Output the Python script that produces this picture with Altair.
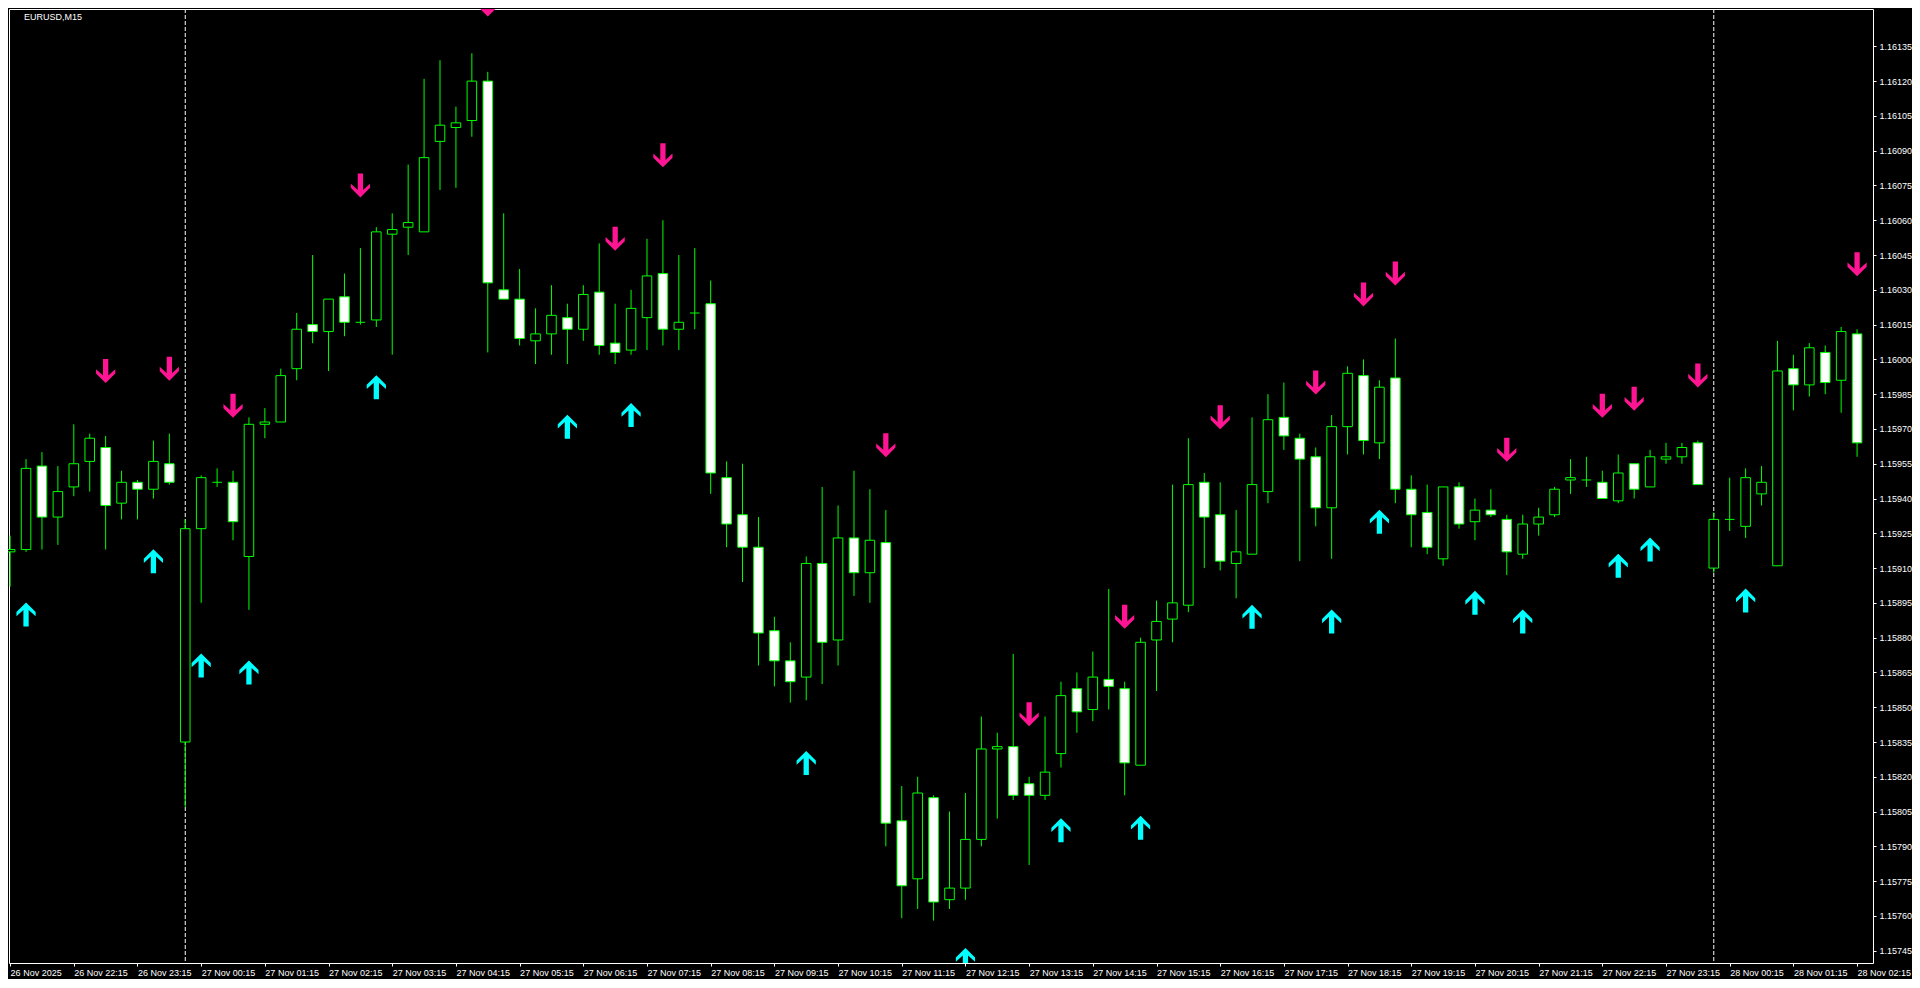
import altair as alt
import pandas as pd

# ---------------- data ----------------
IDX = list(range(117))
OPEN = [1.15917, 1.15918, 1.15954, 1.15932, 1.15945, 1.15956, 1.15962, 1.15938, 1.15947, 1.15944,
        1.15955, 1.15835, 1.15927, 1.15947, 1.15947, 1.15915, 1.15972, 1.15973, 1.15996, 1.16015,
        1.16012, 1.16027, 1.16016, 1.16017, 1.16054, 1.16057, 1.16055, 1.16094, 1.16100, 1.16103,
        1.16120, 1.16030, 1.16026, 1.16008, 1.16011, 1.16018, 1.16013, 1.16029, 1.16007, 1.16004,
        1.16018, 1.16037, 1.16013, 1.16020, 1.16024, 1.15949, 1.15933, 1.15919, 1.15883, 1.15870,
        1.15863, 1.15912, 1.15879, 1.15923, 1.15908, 1.15921, 1.15801, 1.15776, 1.15811, 1.15767,
        1.15772, 1.15793, 1.15832, 1.15833, 1.15817, 1.15812, 1.15830, 1.15858, 1.15849, 1.15862,
        1.15858, 1.15825, 1.15879, 1.15888, 1.15894, 1.15947, 1.15933, 1.15912, 1.15916, 1.15943,
        1.15975, 1.15966, 1.15958, 1.15936, 1.15971, 1.15993, 1.15964, 1.15992, 1.15944, 1.15934,
        1.15914, 1.15945, 1.15930, 1.15935, 1.15931, 1.15916, 1.15929, 1.15933, 1.15948, 1.15948,
        1.15947, 1.15939, 1.15955, 1.15945, 1.15957, 1.15958, 1.15964, 1.15910, 1.15931, 1.15928,
        1.15942, 1.15911, 1.15996, 1.15989, 1.16003, 1.15991, 1.16011]
HIGH = [1.15924, 1.15957, 1.15960, 1.15954, 1.15972, 1.15968, 1.15967, 1.15952, 1.15948, 1.15965,
        1.15968, 1.15931, 1.15950, 1.15953, 1.15952, 1.15975, 1.15979, 1.15996, 1.16020, 1.16045,
        1.16026, 1.16037, 1.16048, 1.16057, 1.16063, 1.16084, 1.16121, 1.16129, 1.16109, 1.16132,
        1.16124, 1.16063, 1.16039, 1.16022, 1.16032, 1.16024, 1.16032, 1.16050, 1.16024, 1.16030,
        1.16052, 1.16060, 1.16045, 1.16048, 1.16034, 1.15956, 1.15955, 1.15932, 1.15889, 1.15878,
        1.15915, 1.15945, 1.15937, 1.15952, 1.15944, 1.15935, 1.15816, 1.15820, 1.15812, 1.15805,
        1.15813, 1.15846, 1.15839, 1.15873, 1.15820, 1.15846, 1.15861, 1.15865, 1.15874, 1.15901,
        1.15861, 1.15880, 1.15896, 1.15946, 1.15966, 1.15951, 1.15947, 1.15935, 1.15975, 1.15985,
        1.15990, 1.15968, 1.15962, 1.15976, 1.15997, 1.16000, 1.15991, 1.16009, 1.15950, 1.15946,
        1.15945, 1.15947, 1.15940, 1.15944, 1.15933, 1.15933, 1.15936, 1.15945, 1.15957, 1.15958,
        1.15952, 1.15959, 1.15955, 1.15961, 1.15964, 1.15964, 1.15965, 1.15934, 1.15949, 1.15953,
        1.15954, 1.16008, 1.16002, 1.16007, 1.16006, 1.16014, 1.16013]
LOW = [1.15902, 1.15917, 1.15918, 1.15920, 1.15941, 1.15943, 1.15918, 1.15931, 1.15931, 1.15940,
       1.15946, 1.15807, 1.15895, 1.15945, 1.15922, 1.15892, 1.15966, 1.15973, 1.15991, 1.16007,
       1.15995, 1.16010, 1.16015, 1.16014, 1.16002, 1.16045, 1.16055, 1.16073, 1.16074, 1.16096,
       1.16003, 1.16026, 1.16006, 1.15998, 1.16002, 1.15998, 1.16008, 1.16002, 1.15998, 1.16002,
       1.16004, 1.16006, 1.16004, 1.16013, 1.15942, 1.15919, 1.15904, 1.15868, 1.15859, 1.15852,
       1.15853, 1.15860, 1.15868, 1.15898, 1.15895, 1.15790, 1.15759, 1.15763, 1.15758, 1.15763,
       1.15767, 1.15790, 1.15802, 1.15810, 1.15782, 1.15810, 1.15824, 1.15839, 1.15844, 1.15849,
       1.15812, 1.15825, 1.15857, 1.15878, 1.15891, 1.15910, 1.15909, 1.15897, 1.15916, 1.15938,
       1.15961, 1.15913, 1.15928, 1.15914, 1.15959, 1.15959, 1.15957, 1.15938, 1.15919, 1.15916,
       1.15911, 1.15927, 1.15922, 1.15932, 1.15907, 1.15914, 1.15924, 1.15932, 1.15942, 1.15945,
       1.15940, 1.15938, 1.15940, 1.15945, 1.15955, 1.15955, 1.15946, 1.15908, 1.15926, 1.15923,
       1.15937, 1.15911, 1.15978, 1.15984, 1.15985, 1.15977, 1.15958]
CLOSE = [1.15918, 1.15953, 1.15932, 1.15943, 1.15955, 1.15966, 1.15937, 1.15947, 1.15944, 1.15956,
         1.15947, 1.15927, 1.15949, 1.15947, 1.15930, 1.15972, 1.15973, 1.15993, 1.16013, 1.16012,
         1.16026, 1.16016, 1.16016, 1.16055, 1.16056, 1.16059, 1.16087, 1.16101, 1.16102, 1.16120,
         1.16033, 1.16026, 1.16009, 1.16011, 1.16019, 1.16013, 1.16028, 1.16006, 1.16003, 1.16022,
         1.16036, 1.16013, 1.16016, 1.16020, 1.15951, 1.15929, 1.15919, 1.15882, 1.15870, 1.15861,
         1.15912, 1.15878, 1.15923, 1.15908, 1.15922, 1.15800, 1.15773, 1.15813, 1.15766, 1.15772,
         1.15793, 1.15832, 1.15833, 1.15812, 1.15812, 1.15822, 1.15855, 1.15848, 1.15863, 1.15859,
         1.15826, 1.15878, 1.15887, 1.15895, 1.15946, 1.15932, 1.15913, 1.15917, 1.15946, 1.15974,
         1.15967, 1.15957, 1.15936, 1.15971, 1.15994, 1.15965, 1.15988, 1.15944, 1.15933, 1.15919,
         1.15945, 1.15929, 1.15935, 1.15933, 1.15917, 1.15929, 1.15932, 1.15944, 1.15949, 1.15948,
         1.15940, 1.15951, 1.15944, 1.15958, 1.15958, 1.15962, 1.15946, 1.15931, 1.15931, 1.15949,
         1.15947, 1.15995, 1.15989, 1.16005, 1.15990, 1.16012, 1.15964]

UP_IDX = [1, 9, 12, 15, 23, 35, 39, 50, 60, 66, 71, 78, 83, 86, 92, 95, 101, 103, 109]
UP_PRICE = [1.15890, 1.15913, 1.15868, 1.15865, 1.15988, 1.15971, 1.15976, 1.15826, 1.15741,
            1.15797, 1.15798, 1.15889, 1.15887, 1.15930, 1.15895, 1.15887, 1.15911, 1.15918, 1.15896]
DN_IDX = [6, 10, 14, 22, 30, 38, 41, 55, 64, 70, 76, 82, 85, 87, 94, 100, 102, 106, 116]
DN_PRICE = [1.15995, 1.15996, 1.15980, 1.16075, 1.16153, 1.16052, 1.16088, 1.15963, 1.15847,
            1.15889, 1.15975, 1.15990, 1.16028, 1.16037, 1.15961, 1.15980, 1.15983, 1.15993, 1.16041]

DAY_SEP_IDX = [11, 107]

X_TICKS = [0, 4, 8, 12, 16, 20, 24, 28, 32, 36, 40, 44, 48, 52, 56, 60, 64, 68, 72, 76,
           80, 84, 88, 92, 96, 100, 104, 108, 112, 116]
X_LABELS = ["26 Nov 2025", "26 Nov 22:15", "26 Nov 23:15", "27 Nov 00:15", "27 Nov 01:15",
            "27 Nov 02:15", "27 Nov 03:15", "27 Nov 04:15", "27 Nov 05:15", "27 Nov 06:15",
            "27 Nov 07:15", "27 Nov 08:15", "27 Nov 09:15", "27 Nov 10:15", "27 Nov 11:15",
            "27 Nov 12:15", "27 Nov 13:15", "27 Nov 14:15", "27 Nov 15:15", "27 Nov 16:15",
            "27 Nov 17:15", "27 Nov 18:15", "27 Nov 19:15", "27 Nov 20:15", "27 Nov 21:15",
            "27 Nov 22:15", "27 Nov 23:15", "28 Nov 00:15", "28 Nov 01:15", "28 Nov 02:15"]
Y_TICKS = [1.15745, 1.15760, 1.15775, 1.15790, 1.15805, 1.15820, 1.15835, 1.15850, 1.15865,
           1.15880, 1.15895, 1.15910, 1.15925, 1.15940, 1.15955, 1.15970, 1.15985, 1.16000,
           1.16015, 1.16030, 1.16045, 1.16060, 1.16075, 1.16090, 1.16105, 1.16120, 1.16135]
SYMBOL = "EURUSD,M15"

# ---------------- styling ----------------
GREEN = "#00FF00"
CYAN = "#00FFFF"
PINK = "#FF1493"
WHITE = "#FFFFFF"
FONT = "Liberation Sans"
FS = 9

UP_PATH = ("M0,-1 L0.8,-0.2 L0.8,0.15 L0.22,-0.38 L0.22,1 L-0.22,1 "
           "L-0.22,-0.38 L-0.8,0.15 L-0.8,-0.2 Z")
DN_PATH = ("M0,1 L0.8,0.2 L0.8,-0.15 L0.22,0.38 L0.22,-1 L-0.22,-1 "
           "L-0.22,0.38 L-0.8,-0.15 L-0.8,0.2 Z")

candles = pd.DataFrame({"i": IDX, "o": OPEN, "h": HIGH, "l": LOW, "c": CLOSE})
ups = pd.DataFrame({"i": UP_IDX, "p": UP_PRICE})
dns = pd.DataFrame({"i": DN_IDX, "p": DN_PRICE})
seps = pd.DataFrame({"i": DAY_SEP_IDX})
title_df = pd.DataFrame({"t": [SYMBOL]})

XS = alt.Scale(domain=[-0.07, 117.0], nice=False, zero=False)
YS = alt.Scale(domain=[1.157397, 1.161511], nice=False, zero=False)

label_expr = "[" + ",".join("'%s'" % s for s in X_LABELS) + "][round(datum.value / 4)]"

XAXIS = alt.Axis(orient="bottom", values=X_TICKS, labelExpr=label_expr, labelAlign="left",
                 labelBaseline="top", tickSize=3, labelPadding=2, labelOverlap=False,
                 labelFlush=False, domain=False, grid=False, title=None,
                 labelColor=WHITE, tickColor=WHITE, labelFont=FONT, labelFontSize=FS)
YAXIS = alt.Axis(orient="right", values=Y_TICKS, format=".5f", tickSize=3, labelPadding=3,
                 labelOverlap=False, labelFlush=False, domain=False, grid=False, title=None,
                 labelColor=WHITE, tickColor=WHITE, labelFont=FONT, labelFontSize=FS)

sep_layer = alt.Chart(seps).mark_rule(color=WHITE, strokeWidth=1, strokeDash=[4, 2]).encode(
    x=alt.X("i:Q", scale=XS, axis=XAXIS)
)

wick_layer = alt.Chart(candles).mark_rule(color=GREEN, strokeWidth=1).encode(
    x=alt.X("i:Q", scale=XS, axis=XAXIS),
    y=alt.Y("l:Q", scale=YS, axis=YAXIS),
    y2="h:Q",
)

body_layer = alt.Chart(candles).transform_filter(
    "datum.o != datum.c"
).transform_calculate(
    x0="datum.i - 0.3", x1="datum.i + 0.3"
).mark_rect(stroke=GREEN, strokeWidth=1).encode(
    x=alt.X("x0:Q", scale=XS, axis=XAXIS),
    x2="x1:Q",
    y=alt.Y("o:Q", scale=YS, axis=YAXIS),
    y2="c:Q",
    fill=alt.condition("datum.c > datum.o", alt.value("#000000"), alt.value(WHITE)),
)

doji_layer = alt.Chart(candles).transform_filter(
    "datum.o == datum.c"
).transform_calculate(
    x0="datum.i - 0.3", x1="datum.i + 0.3"
).mark_rule(color=GREEN, strokeWidth=1).encode(
    x=alt.X("x0:Q", scale=XS, axis=XAXIS),
    x2="x1:Q",
    y=alt.Y("o:Q", scale=YS, axis=YAXIS),
)

up_layer = alt.Chart(ups).mark_point(
    shape=UP_PATH, filled=True, size=576, color=CYAN, opacity=1, strokeWidth=0, clip=True
).encode(
    x=alt.X("i:Q", scale=XS, axis=XAXIS),
    y=alt.Y("p:Q", scale=YS, axis=YAXIS),
)

dn_layer = alt.Chart(dns).mark_point(
    shape=DN_PATH, filled=True, size=576, color=PINK, opacity=1, strokeWidth=0, clip=True
).encode(
    x=alt.X("i:Q", scale=XS, axis=XAXIS),
    y=alt.Y("p:Q", scale=YS, axis=YAXIS),
)

title_layer = alt.Chart(title_df).mark_text(
    align="left", baseline="middle", color=WHITE, font=FONT, fontSize=FS
).encode(
    x=alt.value(15), y=alt.value(8), text="t:N"
)

chart = alt.layer(
    sep_layer, wick_layer, body_layer, doji_layer, up_layer, dn_layer, title_layer
).properties(
    width=1864,
    height=954,
    padding={"left": 1, "top": 1, "right": 39, "bottom": 16},
    autosize=alt.AutoSizeParams(type="none"),
    background="#000000",
).configure_view(
    stroke=WHITE, strokeWidth=1
)

chart.save("out.html", embed_options={"renderer": "svg", "actions": False})
